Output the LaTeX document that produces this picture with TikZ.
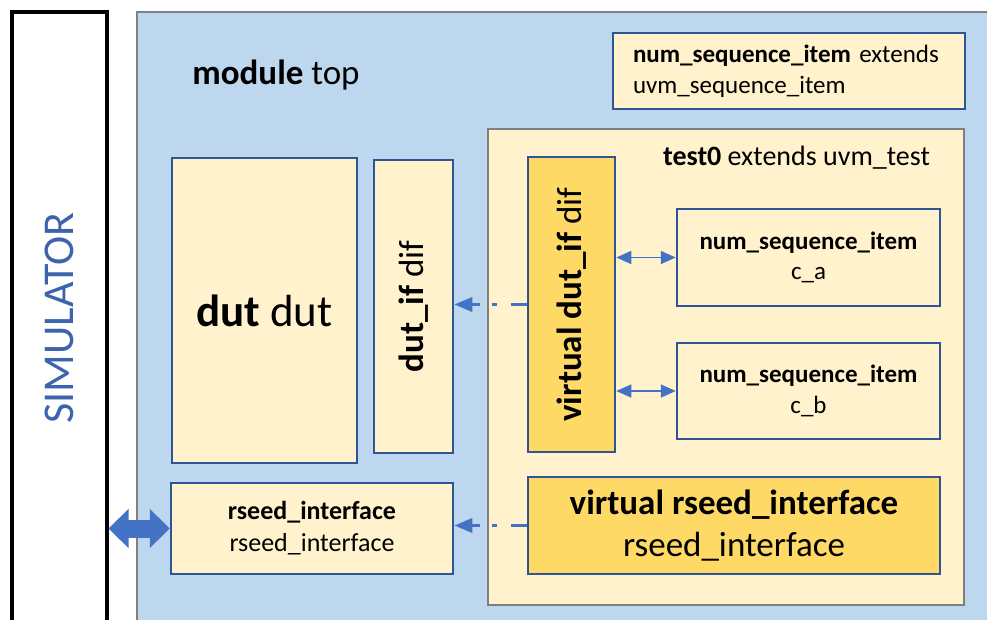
\documentclass[tikz,border=0pt]{standalone}
\usepackage{fontspec}
\setmainfont{Carlito}
\usetikzlibrary{arrows.meta,positioning}

\definecolor{modblue}{HTML}{BDD7EE}
\definecolor{paleyellow}{HTML}{FFF2CC}
\definecolor{gold}{HTML}{FFD966}
\definecolor{boxblue}{HTML}{2F5597}
\definecolor{arrowblue}{HTML}{4472C4}
\definecolor{framegray}{HTML}{7F7F7F}
\definecolor{simblue}{HTML}{3B64AD}

\begin{document}
\begin{tikzpicture}[x=1pt, y=-1pt, inner sep=0pt]
    \tikzstyle{frame} = [rectangle, draw=framegray, line width=2.5pt]
    \tikzstyle{item} = [rectangle, draw=boxblue, line width=2.5pt, fill=paleyellow, align=center]
    \tikzstyle{handle} = [rectangle, draw=boxblue, line width=2.5pt, fill=gold, align=center]
    \tikzstyle{dashlink} = [draw=arrowblue, line width=3.5pt, dash pattern=on 16pt off 14pt on 5pt off 12pt on 40pt off 1pt, -{Triangle[length=18pt, width=14pt]}]
    \tikzstyle{seqlink} = [draw=arrowblue, line width=1.5pt, {Triangle[length=15pt, width=13pt]}-{Triangle[length=15pt, width=13pt]}]
    \tikzstyle{simlink} = [draw=arrowblue, line width=18pt, {Triangle[length=20pt, width=38pt]}-{Triangle[length=20pt, width=38pt]}]

    \useasboundingbox (0,0) rectangle (987,619);
    \clip (0,0) rectangle (987,619);
    \fill[white] (0,0) rectangle (987,619);

    % Simulator
    \node [frame, draw=black, line width=4pt, fill=white, minimum width=95pt, minimum height=612pt, text=simblue, font=\fontsize{44}{50}\selectfont] (sim) at (59,318) {\rotatebox{90}{SIMULATOR}};

    % Module top
    \node [frame, fill=modblue, minimum width=863pt, minimum height=628pt] (topmod) at (568.5,326) {};
    \node [font=\fontsize{35}{42}\selectfont] (topname) at (276,75) {\textbf{module} top};

    \node [item, align=left, text width=312pt, inner xsep=20pt, minimum height=76pt, font=\fontsize{25}{31}\selectfont] (seqdecl) at (789,71) {\textbf{num\_sequence\_item} extends\\uvm\_sequence\_item};

    \node [item, minimum width=185pt, minimum height=305pt, font=\fontsize{45}{54}\selectfont] (dut) at (264.5,310.5) {\textbf{dut} dut};
    \node [item, minimum width=79pt, minimum height=293pt, font=\fontsize{35}{42}\selectfont] (dutif) at (413.5,306.5) {\rotatebox{90}{\textbf{dut\_if} dif}};
    \node [item, minimum width=282pt, minimum height=91pt, font=\fontsize{26}{32}\selectfont] (rseed) at (312,528.5) {\textbf{rseed\_interface}\\rseed\_interface};

    % Test
    \node [frame, fill=paleyellow, minimum width=476pt, minimum height=476pt] (test) at (726,367) {};
    \node [font=\fontsize{28}{34}\selectfont] (testname) at (796.5,158) {\textbf{test0} extends uvm\_test};

    \node [handle, minimum width=87pt, minimum height=295pt, font=\fontsize{35}{42}\selectfont] (vdutif) at (571.5,304.5) {\rotatebox{90}{\textbf{virtual dut\_if} dif}};
    \node [item, minimum width=263pt, minimum height=97pt, font=\fontsize{25}{30.5}\selectfont] (ca) at (808.5,257.5) {\textbf{num\_sequence\_item}\\c\_a};
    \node [item, minimum width=263pt, minimum height=96pt, font=\fontsize{25}{30.5}\selectfont] (cb) at (808.5,391) {\textbf{num\_sequence\_item}\\c\_b};
    \node [handle, minimum width=412pt, minimum height=97pt, font=\fontsize{35}{42}\selectfont] (vrseed) at (734,525.5) {\textbf{virtual rseed\_interface}\\rseed\_interface};

    % Connections
    \draw [dashlink] (vdutif.west) -- (vdutif.west -| dutif.east);
    \draw [dashlink] (vrseed.west) -- (vrseed.west -| rseed.east);
    \draw [seqlink] (ca.west -| vdutif.east) -- (ca.west);
    \draw [seqlink] (cb.west -| vdutif.east) -- (cb.west);
    \draw [simlink] (rseed.west) -- (rseed.west -| sim.east);
\end{tikzpicture}
\end{document}
